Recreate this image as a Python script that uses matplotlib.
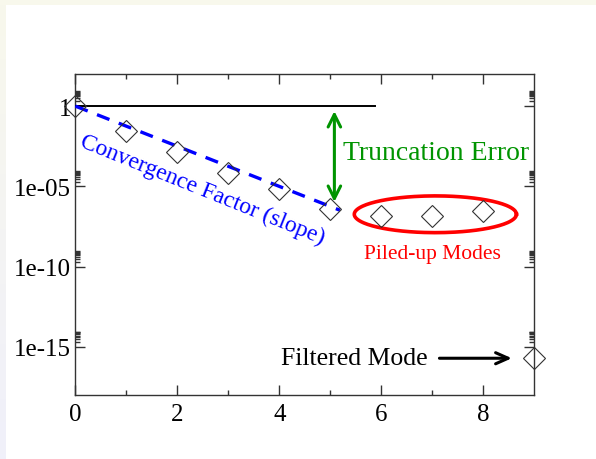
import numpy as np
import matplotlib
matplotlib.use('Agg')
from matplotlib import pyplot as plt
from matplotlib.ticker import FixedLocator, FixedFormatter

# modos (indice) y su amplitud
modes = [0, 1, 2, 3, 4, 5, 6, 7, 8, 9]
amps = [1.0, 10**-1.58, 10**-2.88, 10**-4.18, 10**-5.19, 10**-6.43,
        10**-6.84, 10**-6.86, 10**-6.51, 10**-15.7]

# recta de convergencia (pendiente)
slope_x = [0.0, 5.19]
slope_y = [1.0, 10**-6.49]

# nivel de referencia
ref_x = [0.0, 5.87]
ref_y = [1.0, 1.0]

yticks = [1e-15, 1e-10, 1e-5, 1.0]
ytick_labels = ['1e-15', '1e-10', '1e-05', '1']
xticks = [0, 2, 4, 6, 8]

plt.rcParams['font.family'] = ['Liberation Serif', 'DejaVu Serif']

fig = plt.figure(figsize=(5.96, 4.6), dpi=100)

# borde de fondo (arriba marfil, izquierda degradado lavanda)
bg = fig.add_axes([0, 0, 1, 1], zorder=-10)
bg.set_axis_off()
bg.add_patch(plt.Rectangle((0, 0), 596, 6, color='#f8f8ec', lw=0))
grad = np.linspace(0, 1, 100)[:, None]
cols = np.zeros((100, 1, 3))
top_c = np.array([248, 248, 236]) / 255
bot_c = np.array([240, 240, 250]) / 255
cols[:, 0, :] = top_c * (1 - grad) + bot_c * grad
bg.imshow(cols, extent=(0, 6, 460, 0), aspect='auto')
bg.set_xlim(0, 596)
bg.set_ylim(460, 0)

ax = fig.add_axes([75.3 / 596, 64 / 460, 459 / 596, 321 / 460])
ax.set_yscale('log')
ax.set_xlim(0, 9)
ax.set_ylim(1e-18, 1e2)

# lineas
ax.plot(ref_x, ref_y, color='black', lw=1.4, zorder=3)
ax.plot(slope_x, slope_y, color='#0000ff', lw=2.4, dashes=(4, 3), zorder=3)
ax.plot(modes, amps, linestyle='none', marker='D', markersize=11.2,
        markerfacecolor='none', markeredgecolor='#333333', markeredgewidth=0.8,
        clip_on=False, zorder=4)

# elipse roja alrededor de los modos acumulados
t = np.linspace(0, 2 * np.pi, 200)
ex = 7.06 + 1.59 * np.cos(t)
ey = 10 ** (-6.74 + 1.145 * np.sin(t))
ax.plot(ex, ey, color='red', lw=2.6, zorder=3)

# flecha doble verde
ax.annotate('', xy=(5.08, 10**-5.97), xytext=(5.08, 10**-0.31),
            arrowprops=dict(arrowstyle='<->,head_length=0.9,head_width=0.45',
                            color='#009400', lw=2.2, shrinkA=0, shrinkB=0))
# flecha negra
ax.annotate('', xy=(8.56, 10**-15.71), xytext=(7.14, 10**-15.71),
            arrowprops=dict(arrowstyle='->,head_length=0.9,head_width=0.4',
                            color='black', lw=2.2, shrinkA=0, shrinkB=0))

# textos
ax.text(5.24, 10**-2.88, 'Truncation Error', color='#009400', fontsize=20,
        ha='left', va='center')
ax.text(7.0, 10**-9.17, 'Piled-up Modes', color='red', fontsize=15.5,
        ha='center', va='center')
ax.text(5.47, 10**-15.71, 'Filtered Mode', color='black', fontsize=18.5,
        ha='center', va='center')
ax.text(2.5, 10**-5.2, 'Convergence Factor (slope)', color='#0000ff', fontsize=17,
        ha='center', va='center', rotation=-22, rotation_mode='anchor')

# ejes estilo xmgrace
ax.xaxis.set_major_locator(FixedLocator(xticks))
ax.xaxis.set_minor_locator(FixedLocator([1, 3, 5, 7]))
ax.yaxis.set_major_locator(FixedLocator(yticks))
ax.yaxis.set_major_formatter(FixedFormatter(ytick_labels))
minors = [m * v for v in yticks for m in range(2, 10)]
ax.yaxis.set_minor_locator(FixedLocator(minors))
ax.yaxis.set_minor_formatter(FixedFormatter([''] * len(minors)))
ax.tick_params(which='both', direction='in', top=True, right=True,
               labelsize=18, color='#333333')
ax.tick_params(which='major', length=7, width=1)
ax.tick_params(which='minor', length=3.5, width=1)
ax.tick_params(axis='x', pad=6)
ax.tick_params(axis='y', pad=3)
for s in ax.spines.values():
    s.set_linewidth(1.0)
    s.set_color('#333333')

fig.savefig('out.png', dpi=100)
